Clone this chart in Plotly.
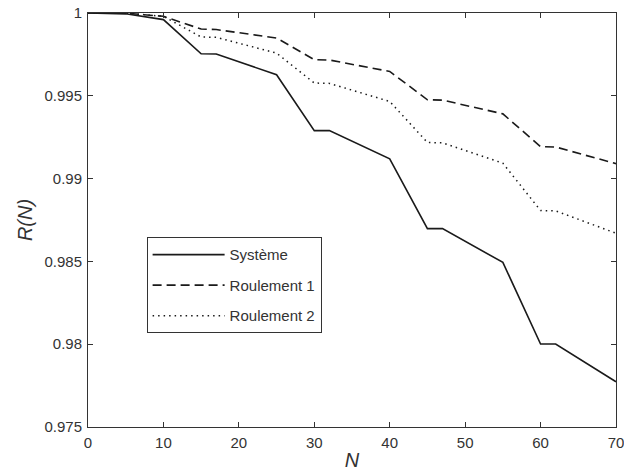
import plotly.graph_objects as go

N = [0, 5, 10, 15, 17, 25, 30, 32, 40, 45, 47, 55, 60, 62, 70]
systeme = [1.0, 0.99995, 0.9996, 0.99754, 0.99752, 0.99627, 0.9929, 0.9929,
           0.99119, 0.98698, 0.98698, 0.98494, 0.98001, 0.98001, 0.97773]
roulement1 = [1.0, 0.99999, 0.9998, 0.99903, 0.99900, 0.99849, 0.99718, 0.99716,
              0.99647, 0.99476, 0.99474, 0.99391, 0.99193, 0.99191, 0.9909]
roulement2 = [1.0, 0.99999, 0.9998, 0.99855, 0.99853, 0.99758, 0.99577, 0.99575,
              0.99466, 0.99218, 0.99216, 0.99093, 0.98807, 0.98805, 0.9867]

x_ticks = [0, 10, 20, 30, 40, 50, 60, 70]
y_ticks = [0.975, 0.98, 0.985, 0.99, 0.995, 1]
y_tick_text = ["0.975", "0.98", "0.985", "0.99", "0.995", "1"]

col = "#1a1a1a"
fig = go.Figure()
fig.add_trace(go.Scatter(x=N, y=systeme, mode="lines", name="Système", legendgroup="a",
                         line=dict(color=col, width=1.6, dash="solid")))
fig.add_trace(go.Scatter(x=N, y=roulement1, mode="lines", name="Roulement 1", legendgroup="b",
                         line=dict(color=col, width=1.6, dash="9px,5px")))
fig.add_trace(go.Scatter(x=N, y=roulement2, mode="lines", name="Roulement 2", legendgroup="c",
                         line=dict(color=col, width=1.5, dash="1.5px,4px")))

axis_common = dict(showline=True, linecolor="#333", linewidth=1, mirror="ticks",
                   ticks="inside", ticklen=5, tickcolor="#333", showgrid=False,
                   zeroline=False, ticklabeloverflow="allow", automargin=False,
                   tickfont=dict(size=15, color="#333"))

fig.update_layout(
    width=624, height=474,
    margin=dict(l=88, r=8, t=13, b=47, autoexpand=False),
    paper_bgcolor="white", plot_bgcolor="white",
    font=dict(family="Liberation Sans, Arial, sans-serif", color="#333"),
    xaxis=dict(range=[0, 70], tickvals=x_ticks, ticklabelstandoff=2,
               title=dict(text="<i>N</i>", font=dict(size=20), standoff=2),
               **axis_common),
    yaxis=dict(range=[0.975, 1], tickvals=y_ticks, ticktext=y_tick_text,
               ticklabelstandoff=2,
               title=dict(text="<i>R(N)</i>", font=dict(size=20), standoff=6),
               **axis_common),
    legend=dict(x=0.111, y=0.458, xanchor="left", yanchor="top",
                bordercolor="#333", borderwidth=1, bgcolor="white",
                font=dict(size=15, color="#333"), itemwidth=72,
                tracegroupgap=8, traceorder="grouped",
                entrywidth=214, entrywidthmode="pixels"),
    showlegend=True,
)

# remove the default page margin so the 624x474 figure fills the window
fig.write_html("out.html",
               config={"displayModeBar": False},
               post_script="document.body.style.margin='0';"
                           "document.body.style.overflow='hidden';")
